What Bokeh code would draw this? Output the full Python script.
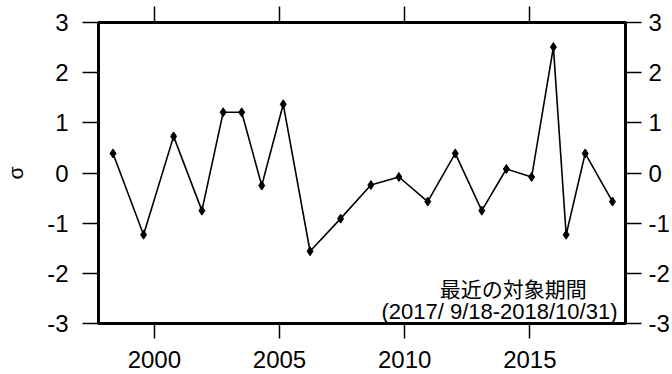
from bokeh.plotting import figure
from bokeh.models import LinearAxis, Range1d, FixedTicker, Label, ColumnDataSource
from bokeh.embed import file_html
from bokeh.resources import INLINE

# ---- data ----
years = [1998.35, 1999.57, 2000.77, 2001.90, 2002.75, 2003.49, 2004.29, 2005.15,
         2006.22, 2007.44, 2008.65, 2009.77, 2010.92, 2012.02, 2013.08, 2014.06,
         2015.07, 2015.94, 2016.45, 2017.21, 2018.30]
sigma = [0.39, -1.23, 0.73, -0.75, 1.21, 1.21, -0.25, 1.37,
         -1.56, -0.91, -0.24, -0.08, -0.57, 0.39, -0.75, 0.08,
         -0.08, 2.51, -1.23, 0.39, -0.57]
x_ticks = [2000, 2005, 2010, 2015]
y_ticks = [-3, -2, -1, 0, 1, 2, 3]
y_tick_labels = ["-3", "-2", "-1", "0", "1", "2", "3"]
y_label = "σ"
note_title = "最近の対象期間"
note_period = "(2017/ 9/18-2018/10/31)"

X0, X1 = 1997.77, 2018.82
Y0, Y1 = -3, 3

FONT = "Liberation Sans"
FS = "24px"

p = figure(width=672, height=374, output_backend="svg", toolbar_location=None,
           x_range=Range1d(X0, X1), y_range=Range1d(Y0, Y1),
           min_border_left=98, min_border_right=45, min_border_top=22, min_border_bottom=51,
           x_axis_location="below", y_axis_location="left")
p.grid.visible = False
p.outline_line_color = "black"
p.outline_line_width = 3
p.background_fill_color = "white"
p.border_fill_color = "white"

def style_axis(ax, ticks, tick_out):
    ax.ticker = FixedTicker(ticks=ticks)
    ax.minor_tick_line_color = None
    ax.major_tick_in = 0
    ax.major_tick_out = tick_out
    ax.major_tick_line_width = 1.5
    ax.major_tick_line_color = "black"
    ax.axis_line_width = 3
    ax.axis_line_color = "black"
    ax.major_label_text_font = FONT
    ax.major_label_text_font_size = FS
    ax.major_label_text_color = "black"

# bottom axis
xb = p.xaxis[0]
style_axis(xb, x_ticks, 15)
xb.major_label_standoff = 12

# left axis
yl = p.yaxis[0]
style_axis(yl, y_ticks, 16)
yl.major_label_overrides = dict(zip(y_ticks, y_tick_labels))
yl.major_label_standoff = 14
yl.axis_label = y_label
yl.axis_label_text_font = FONT
yl.axis_label_text_font_size = "21px"
yl.axis_label_text_font_style = "normal"
yl.axis_label_text_color = "black"
yl.axis_label_standoff = 17

# top axis (ticks only)
xt = LinearAxis()
style_axis(xt, x_ticks, 16)
xt.major_label_overrides = {t: "" for t in x_ticks}
xt.major_label_standoff = 0
p.add_layout(xt, "above")

# right axis (ticks and labels)
yr = LinearAxis()
style_axis(yr, y_ticks, 16)
yr.major_label_overrides = dict(zip(y_ticks, y_tick_labels))
yr.major_label_standoff = 7
p.add_layout(yr, "right")

src = ColumnDataSource(dict(x=years, y=sigma))
p.line("x", "y", source=src, line_color="black", line_width=1.6)
p.scatter("x", "y", source=src, marker="diamond", size=9, color="black")

p.add_layout(Label(x=2017.27, y=-2.30, text=note_title, text_align="right",
                   text_baseline="alphabetic", text_font="Noto Sans CJK JP",
                   text_font_size="21px", text_color="black"))
p.add_layout(Label(x=2018.5, y=-2.76, text=note_period, text_align="right",
                   text_baseline="alphabetic", text_font=FONT,
                   text_font_size="22px", text_color="black"))

open("out.html", "w").write(file_html(p, INLINE))
